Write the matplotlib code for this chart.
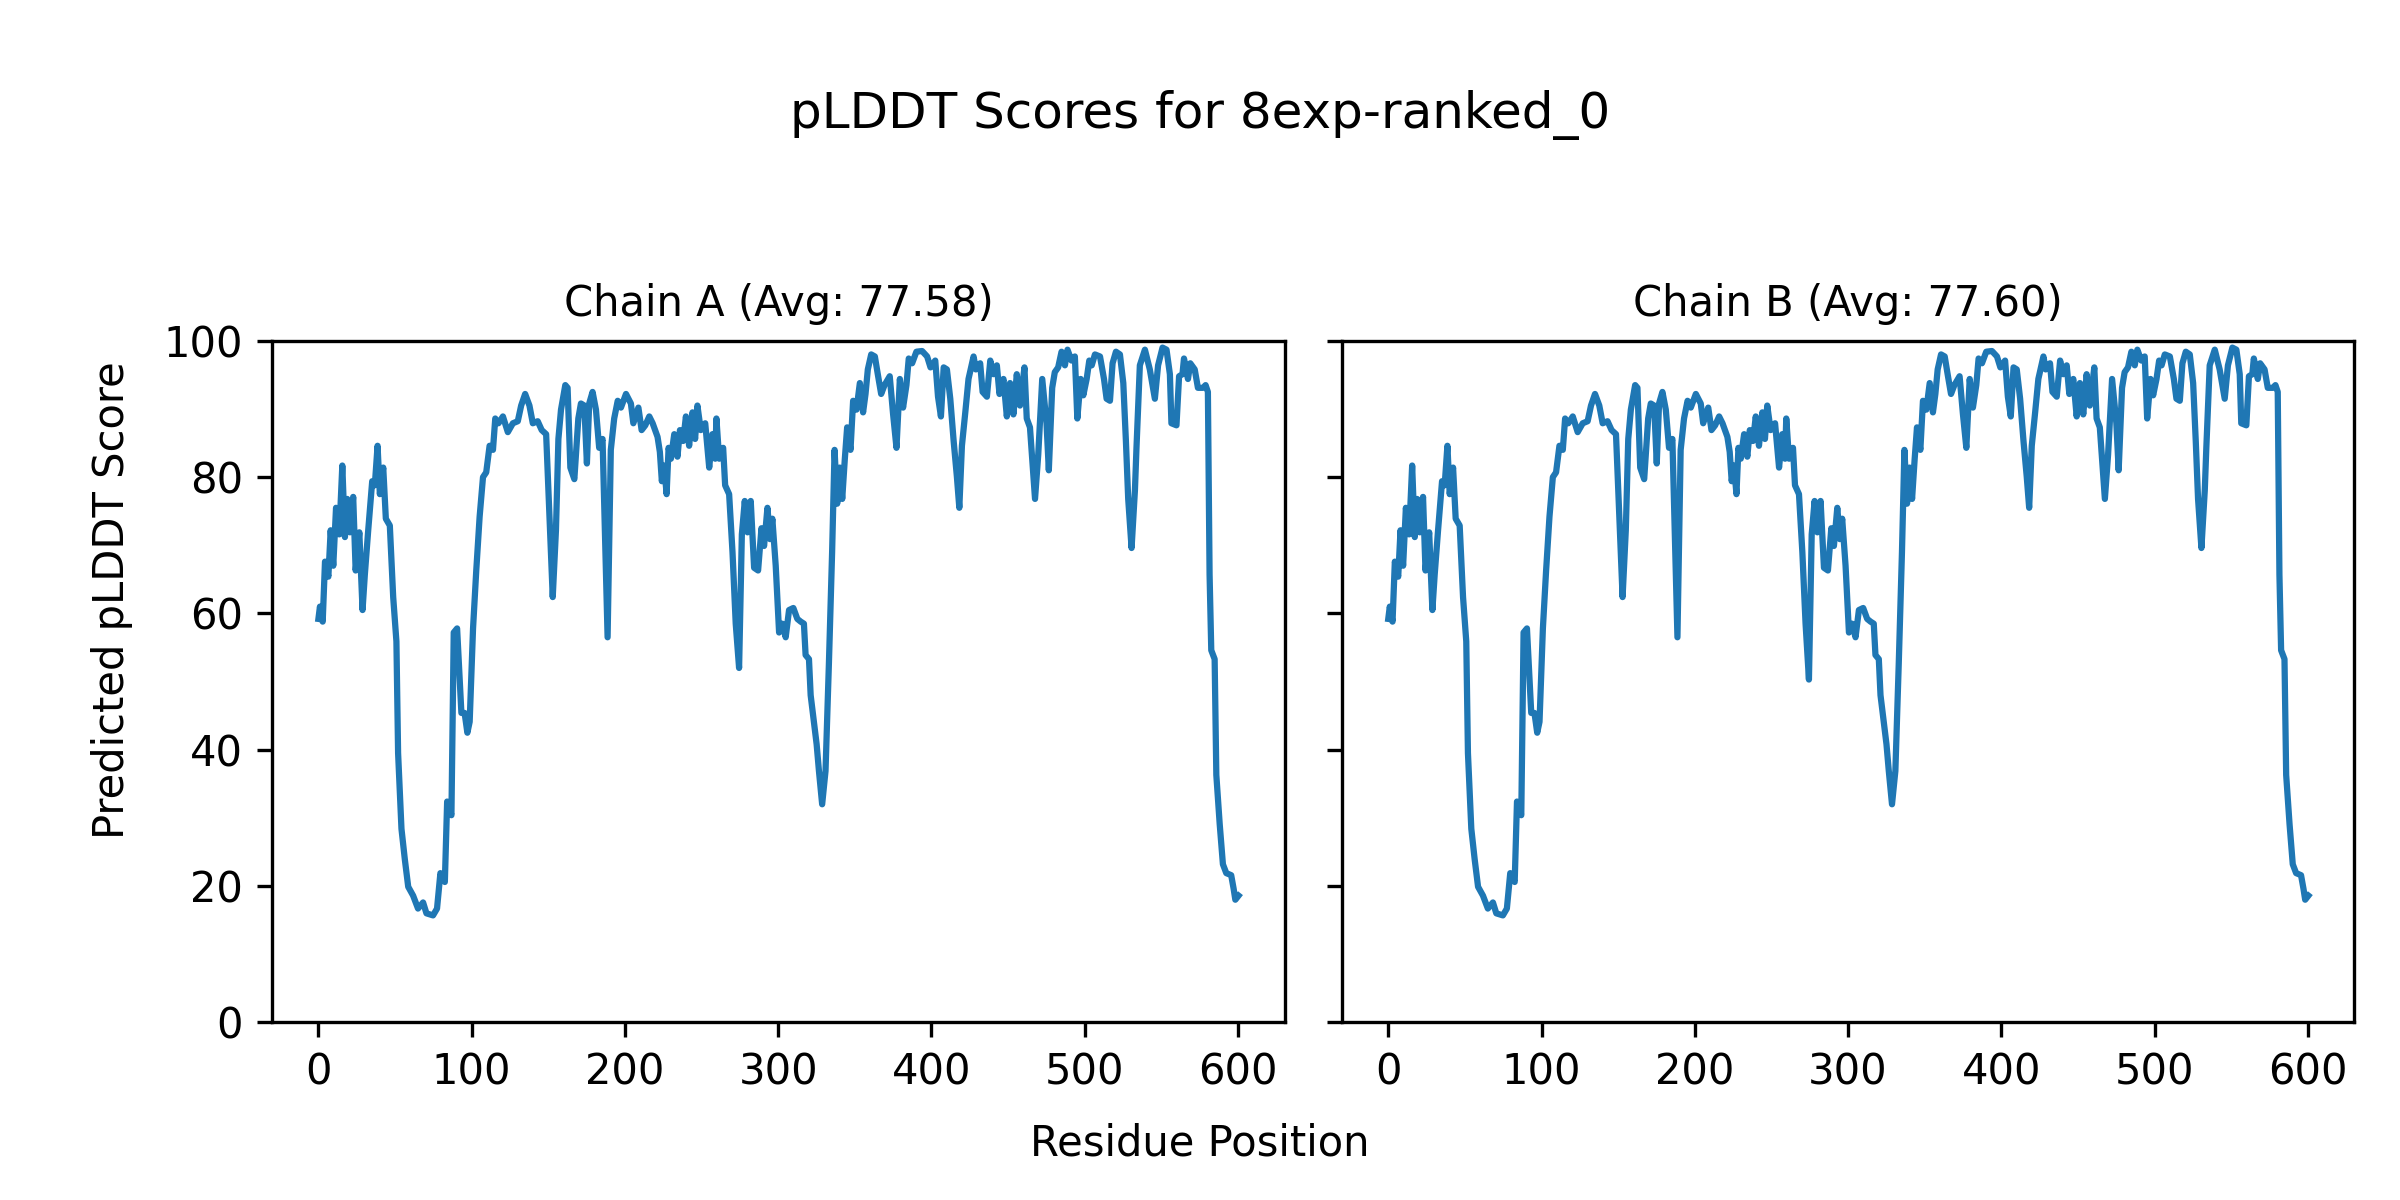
import matplotlib
matplotlib.use("Agg")
import matplotlib.pyplot as plt

# residue positions and pLDDT values (chain A)
residue_a = [
    0, 1, 2.8, 4.3, 6.5, 8, 9.7, 11.5, 13.6, 15.6, 17.3, 18.8, 20.6, 22.7, 24.3,
    26.7, 28.8, 30.3, 32.5, 35.1, 36.8, 38.6, 40.1, 42.3, 44, 46.6, 48.8, 50.9,
    52, 54.2, 56.4, 58.6, 61.8, 65, 68.3, 70.5, 74.8, 77.4, 79.6, 82.5, 84, 86.8,
    88.3, 90.5, 93.3, 95.4, 97.2, 98.7, 100.9, 103, 105.2, 107.4, 109.5, 111.7,
    113.9, 115.4, 117.5, 120.4, 123.6, 126.9, 130.1, 132.3, 134.9, 137.7, 139.9,
    143.1, 145.7, 148.6, 150.7, 152.9, 155, 156.6, 158.3, 161.1, 162.6, 164.4,
    167, 169.6, 171.3, 173.5, 175.2, 176.7, 178.9, 181.1, 183.2, 185.4, 188.7,
    190.8, 193, 195.3, 197.4, 200.7, 203.9, 205.5, 208.8, 210.9, 213.3, 215.9,
    218.1, 221.3, 222.8, 224.1, 225.6, 227.2, 228.5, 230, 232.2, 234.3, 235.9,
    238, 239.8, 241.9, 244.1, 245.8, 247.3, 249.5, 252.4, 255, 257.1, 258.9,
    259.7, 261.5, 264.1, 265.4, 268, 270.2, 272.3, 274.5, 276.3, 278.2, 280,
    282.1, 284.3, 286.9, 289.1, 290.8, 293, 294.7, 296.2, 298.4, 300.6, 302.7,
    304.9, 307.1, 309.9, 312.5, 314.7, 316.8, 317.9, 320.1, 321.2, 323.3, 325.1,
    326.6, 328.7, 330.9, 333.1, 335.2, 336.8, 338.5, 340.2, 341.8, 343.5, 345,
    347.2, 348.9, 351.1, 353.3, 355.4, 357, 358.5, 360.7, 363.1, 365, 367.2,
    369.4, 372.8, 375, 377.2, 379.4, 381.5, 383.7, 385.2, 387.4, 390.2, 393.9,
    397.2, 399.4, 402.5, 404.3, 406.2, 408, 410.1, 412.3, 414.5, 416.6, 418.2,
    419.9, 422.1, 424.2, 427.5, 429, 431.8, 433.4, 436.2, 438.4, 440.5, 442.7,
    444.4, 447, 449.2, 451.3, 453.5, 455.7, 457.8, 460.7, 462.2, 464.3, 467.6,
    469.7, 472.3, 475.1, 476.6, 478.8, 480.5, 482.7, 484.9, 487.1, 488.8, 491.4,
    493.6, 495.2, 497.4, 499.1, 501.3, 503, 504.6, 506.7, 510, 512.6, 514.3,
    516.5, 518.2, 520.4, 523, 525.2, 526.9, 528.4, 530.6, 532.8, 533.8, 536,
    539.3, 542.5, 545.8, 547.9, 550.8, 553.4, 555.6, 556.6, 559.9, 561.6, 563.8,
    564.8, 567.4, 568.9, 571.8, 573.9, 577.2, 578.9, 580.4, 581.5, 582.6, 584.8,
    585.9, 588.1, 590.2, 592.4, 595.6, 597.2, 598.3, 600.4,
]
score_a = [
    59.2, 61, 58.8, 67.6, 65.4, 72.2, 67, 75.5, 71.6, 81.7, 71.2, 76.8, 71.9, 77.1, 66.3,
    71.9, 60.5, 65.7, 72.2, 79.4, 78.8, 84.6, 77.5, 81.4, 73.9, 72.9, 62.4, 55.9,
    39.5, 28.4, 23.9, 19.9, 18.6, 16.7, 17.6, 16, 15.7, 16.7, 21.9, 20.6, 32.4, 30.4,
    57.2, 57.8, 45.4, 45.4, 42.5, 44.1, 57.8, 66.3, 74.2, 80, 80.7, 84.6,
    84, 88.6, 87.9, 88.9, 86.6, 87.9, 88.2, 90.5, 92.2, 90.5, 87.9,
    88.2, 86.9, 86.3, 74.8, 62.4, 72.2, 85.6, 89.9, 93.5, 93.1, 81.4,
    79.7, 88.6, 90.8, 90.5, 82, 90.8, 92.5, 89.9, 84.3, 85.6, 56.5,
    84, 88.6, 91.2, 90.2, 92.2, 90.8, 87.9, 90.2, 86.9, 87.6, 88.9,
    87.9, 85.9, 83.7, 79.4, 81.7, 77.5, 84.3, 82.7, 86.3, 83, 86.9,
    85.3, 88.9, 84.6, 89.5, 85.6, 90.5, 86.9, 87.9, 81.4, 86.3, 82.7,
    88.6, 82.7, 84.3, 78.8, 77.5, 69, 58.5, 52, 71.6, 76.5, 71.9,
    76.5, 66.7, 66.3, 72.5, 69.9, 75.5, 70.9, 73.9, 67, 57.2, 58.5,
    56.5, 60.5, 60.8, 59.2, 58.8, 58.5, 53.9, 53.3, 48, 44.1, 40.8,
    36.9, 32, 36.9, 52.6, 69, 84, 76.1, 81.4, 76.8, 82.7, 87.3,
    84, 91.2, 89.9, 93.8, 89.5, 92.2, 95.8, 98, 97.7, 95.1, 92.2,
    93.5, 94.8, 89.2, 84.3, 94.4, 90.2, 93.5, 97.4, 96.7, 98.4, 98.5,
    97.7, 96.1, 97.1, 91.8, 88.9, 96.1, 95.8, 91.5, 85.3, 80.1, 75.5,
    84.6, 89.5, 94.4, 97.7, 95.8, 96.7, 92.5, 91.8, 97.1, 95.1, 96.4,
    92.2, 94.4, 88.9, 93.8, 89.2, 95.1, 90.5, 96.1, 88.6, 87.3, 76.8,
    83.3, 94.4, 87.9, 81, 93.1, 95.4, 96.1, 98.4, 96.4, 98.7, 97.1,
    97.7, 88.6, 94.4, 92, 94.4, 97.1, 96.4, 98, 97.7, 94.4, 91.5,
    91.2, 96.7, 98.4, 98, 93.8, 85.3, 76.8, 69.6, 78.1, 84.3, 96.4,
    98.7, 95.8, 91.5, 96.4, 99, 98.7, 95.1, 87.9, 87.6, 94.8, 95.1,
    97.4, 94.4, 96.7, 95.8, 93.1, 93.1, 93.5, 92.5, 65.7, 54.6, 53.3,
    36.3, 29.1, 23.2, 21.9, 21.6, 19.6, 18, 18.6,
]

# chain B follows chain A almost exactly; the dip near residue 274 goes lower
residue_b = residue_a
score_b = list(score_a)
score_b[residue_b.index(274.5)] = 50.3

chain_names = ["A", "B"]
chain_avgs = [77.58, 77.60]

fig, axes = plt.subplots(1, 2, figsize=(8, 4), dpi=300, sharey=True)

for ax, name, avg, res, sc in zip(axes, chain_names, chain_avgs,
                                  [residue_a, residue_b], [score_a, score_b]):
    ax.plot(res, sc)
    ax.set_title(f"Chain {name} (Avg: {avg:.2f})", fontsize=10)
    ax.set_ylim(0, 100)

fig.suptitle("pLDDT Scores for 8exp-ranked_0", fontsize=12, y=0.925)
fig.supxlabel("Residue Position", fontsize=10, y=0.03)
fig.supylabel("Predicted pLDDT Score", fontsize=10, x=0.038)

plt.subplots_adjust(left=0.1135, right=0.981, bottom=0.148, top=0.716, wspace=0.057)
plt.savefig("out.png")
